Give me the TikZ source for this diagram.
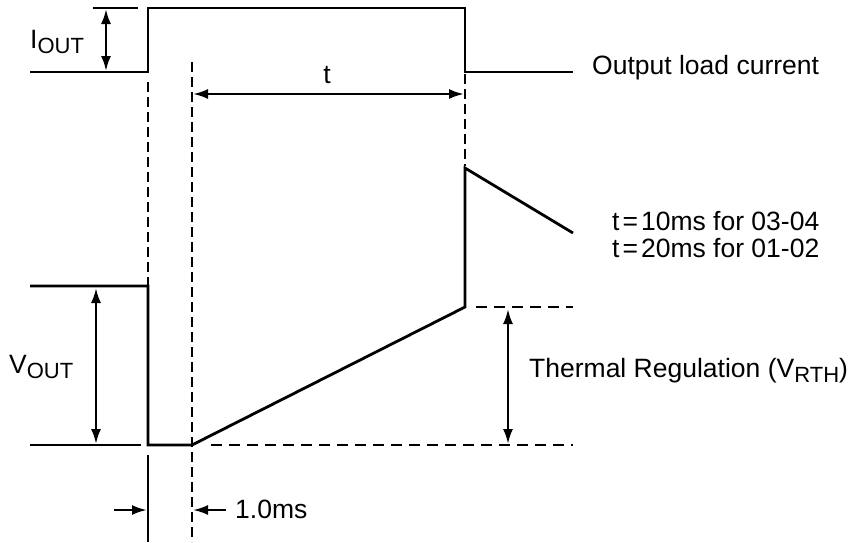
\documentclass[tikz,border=0pt]{standalone}
\usepackage{fontspec}
\setmainfont{Liberation Sans}
\usetikzlibrary{arrows.meta}
\newcommand{\lowsub}[1]{\raisebox{-0.19em}{\fontsize{22}{22}\selectfont #1}}
\begin{document}
\begin{tikzpicture}[x=1pt,y=-1pt,
  wave/.style={line width=2.8pt, line join=miter},
  guide/.style={line width=2.6pt, dash pattern=on 10pt off 5pt},
  dim/.style={line width=2.4pt, {Latex[length=15pt,width=10pt]}-{Latex[length=15pt,width=10pt]}},
  dimr/.style={line width=2.4pt, -{Latex[length=15pt,width=10pt]}},
  lbl/.style={font=\fontsize{26.5}{30}\selectfont, inner sep=0pt}]
\useasboundingbox (0,0) rectangle (852,542);

% current waveform
\draw[wave] (30,72) -- (148,72) -- (148,8) -- (465,8) -- (465,72) -- (573,72);
\draw[wave] (93,8) -- (138,8);
\draw[dim] (106,9) -- (106,71);
\node[lbl, anchor=base west] (iout) at (30,48) {I\lowsub{OUT}};
\node[lbl, anchor=base west] (olc) at (592,74) {Output load current};

% guides
\draw[guide] (148,82) -- (148,285);
\draw[guide] (192,62) -- (192,542);
\draw[guide] (465,74) -- (465,166);
\draw[dim] (193,94) -- (464,94);
\node[lbl, anchor=base] (tl) at (327,83) {t};

% voltage waveform
\draw[wave] (30,286) -- (148,286) -- (148,445) -- (192,445) -- (465,307) -- (465,168) -- (573,233);
\draw[wave] (30,445) -- (141,445);
\draw[dim] (96,288) -- (96,444);
\node[lbl, anchor=base west] (vout) at (9,373) {V\lowsub{OUT}};
\draw[wave] (148,455) -- (148,542);

\draw[guide, dash pattern=on 11pt off 7pt] (476,307) -- (573,307);
\draw[guide, dash pattern=on 11pt off 7pt] (211,445) -- (573,445);
\draw[dim] (508,309) -- (508,444);
\node[lbl, anchor=base west] (th) at (529,377) {Thermal Regulation (V\lowsub{RTH})};

\node[lbl, anchor=base west] (t1) at (612,230) {t\kern3pt=\kern3pt10ms for 03-04};
\node[lbl, anchor=base west] (t2) at (612,257) {t\kern3pt=\kern3pt20ms for 01-02};

% 1.0ms
\draw[dimr] (114,510) -- (147,510);
\draw[dimr] (226,510) -- (193,510);
\node[lbl, anchor=base west] (ms) at (235,518) {1.0ms};
\end{tikzpicture}
\end{document}
